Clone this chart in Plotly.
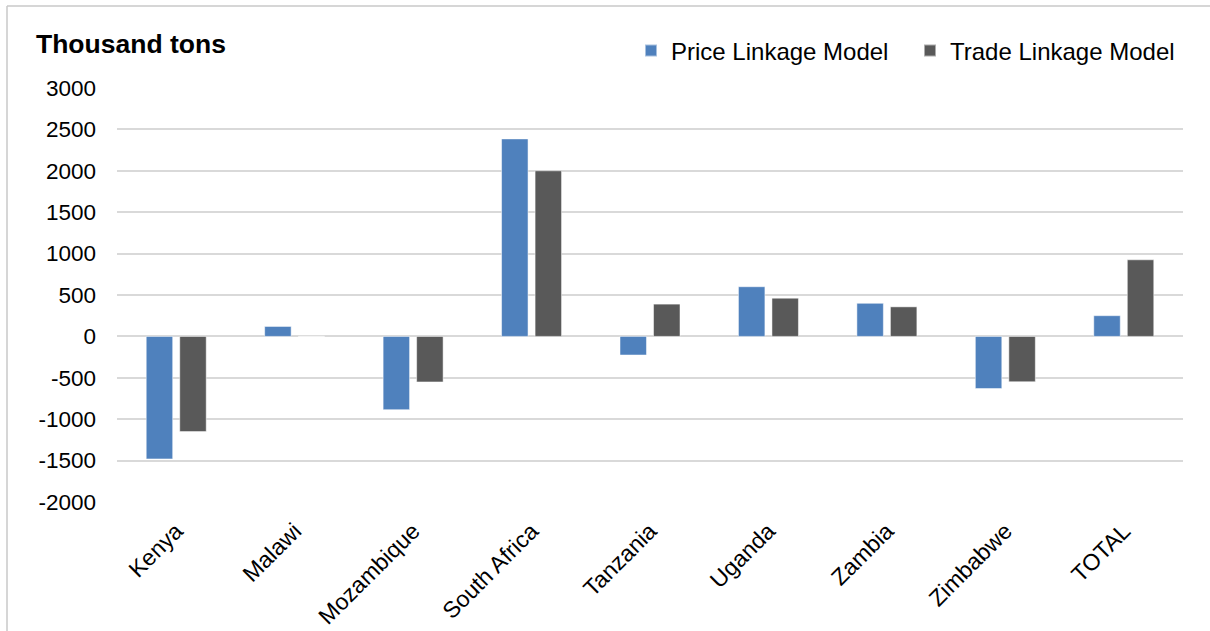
import plotly.graph_objects as go

categories = ["Kenya", "Malawi", "Mozambique", "South Africa", "Tanzania",
              "Uganda", "Zambia", "Zimbabwe", "TOTAL"]
price_linkage = [-1480, 120, -885, 2385, -225, 600, 400, -630, 250]
trade_linkage = [-1150, 0, -550, 2000, 390, 462, 357, -548, 925]
y_ticks = [3000, 2500, 2000, 1500, 1000, 500, 0, -500, -1000, -1500, -2000]

W, H = 1210, 631
L, R, T, B = 117, 1183, 88, 502

def px(xp):
    return (xp - L) / (R - L)

def py(yp):
    return (B - yp) / (B - T)

FONT = "Liberation Sans, Arial, sans-serif"

fig = go.Figure()
fig.add_trace(go.Bar(name="Price Linkage Model", x=categories, y=price_linkage,
                     marker=dict(color="#4F81BD", line=dict(color="rgba(255,255,255,0.5)", width=1))))
fig.add_trace(go.Bar(name="Trade Linkage Model", x=categories, y=trade_linkage,
                     marker=dict(color="#595959", line=dict(color="rgba(255,255,255,0.5)", width=1))))

fig.update_layout(
    width=W, height=H,
    margin=dict(l=L, r=W - R, t=T, b=H - B),
    paper_bgcolor="white", plot_bgcolor="white",
    barmode="group", bargap=0.434, bargroupgap=0.21,
    font=dict(family=FONT, size=22, color="black"),
    showlegend=True,
    legend=dict(orientation="h", x=px(631), y=py(51), xanchor="left", yanchor="middle",
                font=dict(size=24), itemsizing="constant", traceorder="normal",
                entrywidth=234, entrywidthmode="pixels",
                bgcolor="rgba(0,0,0,0)"),
    annotations=[dict(text="<b>Thousand tons</b>", x=px(34), y=py(44), xref="paper", yref="paper",
                      xanchor="left", yanchor="middle", showarrow=False,
                      font=dict(size=26.5, family=FONT, color="black"))],
    shapes=[
        dict(type="line", xref="paper", yref="paper", x0=px(7), x1=px(1215), y0=py(6), y1=py(6),
             line=dict(color="#c8c8c8", width=1.5)),
        dict(type="line", xref="paper", yref="paper", x0=px(7), x1=px(7), y0=py(6), y1=py(640),
             line=dict(color="#c8c8c8", width=1.5)),
    ],
)
fig.update_yaxes(range=[-2000, 3000], tickvals=y_ticks, ticktext=[str(v) for v in y_ticks],
                 showgrid=True, gridcolor="#d9d9d9", gridwidth=1.5,
                 zeroline=True, zerolinecolor="#d9d9d9", zerolinewidth=1.5, automargin=False,
                 showline=False, ticks="", ticklabelstandoff=20, tickfont=dict(size=22.5))
fig.update_xaxes(tickangle=-45, showgrid=False, showline=False, ticks="", automargin=False,
                 ticklabelstandoff=10, tickfont=dict(size=23))

fig.write_html("out.html")
